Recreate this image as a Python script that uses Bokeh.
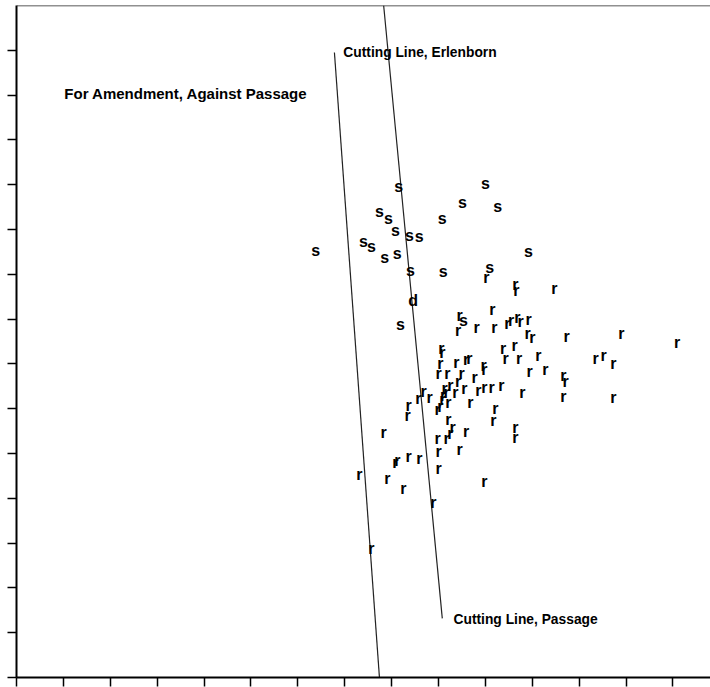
from bokeh.plotting import figure
from bokeh.models import Range1d, FixedTicker, Span, ColumnDataSource
from bokeh.core.properties import value
from bokeh.embed import file_html
from bokeh.resources import INLINE

# Spatial positions of legislators (first / second dimension), plotted as letters
s_x = [8.15, 10.00, 9.51, 10.26, 7.74, 7.93, 9.08, 8.08, 8.38, 8.59, 7.40, 7.57,
       6.38, 8.12, 7.85, 10.92, 8.40, 9.10, 10.09, 8.19, 9.53]
s_y = [10.96, 11.03, 10.60, 10.51, 10.40, 10.25, 10.25, 9.98, 9.87, 9.84, 9.73, 9.62,
       9.53, 9.46, 9.38, 9.51, 9.08, 9.06, 9.15, 7.88, 7.97]

d_x = [8.46]
d_y = [8.42]

r_x = [10.02, 10.64, 10.66, 11.47, 9.45, 9.42, 9.81, 10.15, 10.19, 10.47, 10.55, 10.68,
       10.75, 10.92, 10.90, 11.00, 11.73, 12.90, 14.09, 9.06, 9.08, 10.38, 10.43, 10.62,
       10.72, 11.13, 12.35, 12.52, 12.73, 9.04, 9.38, 9.59, 9.66, 9.96, 9.98, 9.00,
       9.19, 9.49, 9.42, 9.77, 10.94, 11.28, 11.66, 11.71, 9.25, 9.55, 9.85, 9.98,
       10.13, 10.34, 8.68, 8.57, 8.81, 9.13, 9.17, 9.10, 9.08, 9.21, 9.36, 10.79,
       11.66, 12.73, 8.36, 8.34, 8.98, 9.04, 9.68, 10.21, 10.17, 9.21, 9.30, 9.25,
       9.59, 10.64, 10.64, 7.83, 8.98, 9.17, 9.00, 9.45, 8.08, 8.12, 8.36, 8.59,
       9.00, 7.31, 7.91, 8.25, 9.98, 8.89, 7.57]
r_y = [8.93, 8.77, 8.64, 8.68, 8.08, 7.75, 7.81, 8.21, 7.81, 7.90, 7.97, 8.04,
       7.95, 7.99, 7.68, 7.59, 7.61, 7.68, 7.48, 7.34, 7.25, 7.34, 7.12, 7.41,
       7.12, 7.19, 7.12, 7.19, 7.01, 7.01, 7.03, 7.10, 7.12, 6.96, 6.88, 6.79,
       6.79, 6.79, 6.61, 6.70, 6.83, 6.88, 6.74, 6.61, 6.52, 6.45, 6.41, 6.47,
       6.47, 6.52, 6.38, 6.23, 6.25, 6.45, 6.36, 6.29, 6.21, 6.14, 6.36, 6.36,
       6.27, 6.25, 6.07, 5.85, 5.98, 6.05, 6.14, 6.00, 5.74, 5.76, 5.58, 5.45,
       5.49, 5.58, 5.36, 5.47, 5.33, 5.33, 5.04, 5.09, 4.80, 4.84, 4.93, 4.89,
       4.67, 4.53, 4.44, 4.22, 4.38, 3.91, 2.88]

# Cutting lines (endpoints)
erlenborn_x = [6.78, 7.74]
erlenborn_y = [13.95, 0.0]
passage_x = [7.83, 9.08]
passage_y = [15.0, 1.32]

# Annotation texts
side_text = ["For Amendment, Against Passage"]
side_x = [1.02]
side_y = [13.04]
cut_text = ["Cutting Line, Erlenborn", "Cutting Line, Passage"]
cut_x = [6.97, 9.32]
cut_y = [13.95, 1.29]

x_ticks = list(range(0, 15))
y_ticks = list(range(0, 15))

FONT = "Liberation Sans"

p = figure(width=710, height=687, output_backend="svg", toolbar_location=None,
           x_range=Range1d(0, 14.80), y_range=Range1d(0, 15.0),
           min_border_left=16, min_border_bottom=10, min_border_top=5, min_border_right=0)
p.background_fill_color = "white"
p.border_fill_color = "white"
p.outline_line_color = None
p.grid.visible = False

for ax, ticks in ((p.xaxis[0], x_ticks), (p.yaxis[0], y_ticks)):
    ax.ticker = FixedTicker(ticks=ticks)
    ax.major_label_overrides = {t: "" for t in ticks}
    ax.major_label_text_font_size = "0px"
    ax.major_label_standoff = 0
    ax.major_tick_in = 0
    ax.major_tick_out = 9
    ax.minor_tick_line_color = None
    ax.axis_line_color = "black"
    ax.axis_line_width = 2
    ax.major_tick_line_color = "black"
    ax.major_tick_line_width = 1.5

p.add_layout(Span(location=15.0, dimension="width", line_color="#222222", line_width=1.5))

p.line(erlenborn_x, erlenborn_y, line_color="#222222", line_width=1.2)
p.line(passage_x, passage_y, line_color="#222222", line_width=1.2)

for xs, ys, letter in ((s_x, s_y, "s"), (r_x, r_y, "r"), (d_x, d_y, "d")):
    src = ColumnDataSource(dict(x=xs, y=ys, t=[letter] * len(xs)))
    p.text(x="x", y="y", text="t", source=src, text_font=value(FONT),
           text_font_style="bold", text_font_size="16px", text_color="black",
           text_align="center", text_baseline="middle")

p.text(x=side_x, y=side_y, text=side_text, text_font=value(FONT),
       text_font_style="bold", text_font_size="15px", text_color="black",
       text_align="left", text_baseline="middle")
p.text(x=cut_x, y=cut_y, text=cut_text, text_font=value(FONT),
       text_font_style="bold", text_font_size="13.8px", text_color="black",
       text_align="left", text_baseline="middle")

open("out.html", "w").write(file_html(p, INLINE))
